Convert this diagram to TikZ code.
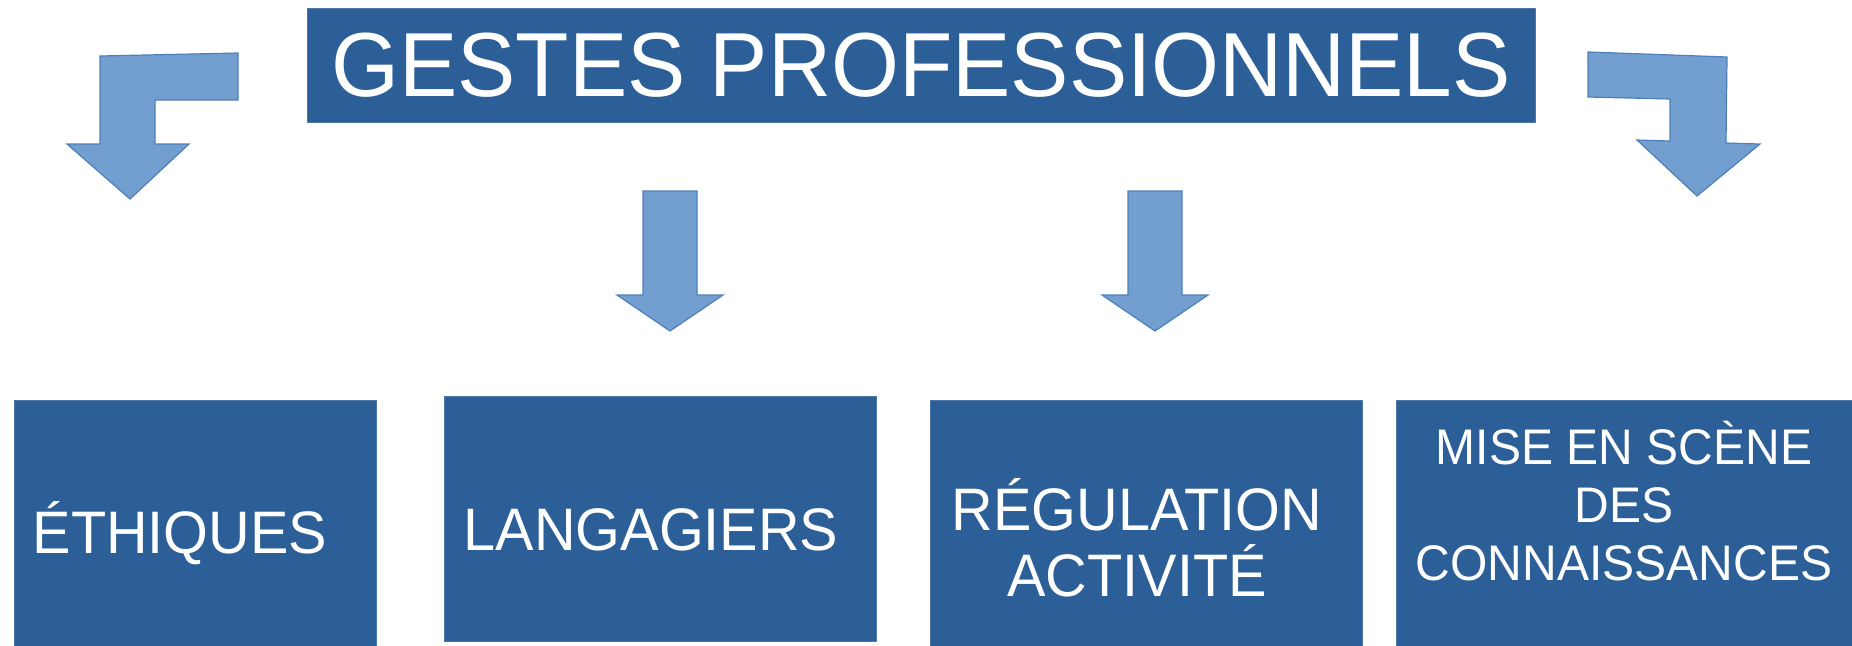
\documentclass[tikz,border=0pt]{standalone}
\usepackage{fontspec}
\setmainfont{Liberation Sans}[FakeStretch=0.96]
\usetikzlibrary{fit}
\definecolor{boxblue}{HTML}{2C5F97}
\definecolor{arrowblue}{HTML}{729FCF}
\definecolor{arrowline}{HTML}{4F7FBA}
\tikzset{
    box/.style={fill=boxblue, draw=boxblue!85!white, inner sep=0pt},
    boxtext/.style={text=white, font=\fontsize{30}{33}\selectfont, align=center, inner sep=0pt},
    bigarrow/.style={fill=arrowblue, draw=arrowline, line width=0.6pt, line join=miter}
}

\begin{document}
\begin{tikzpicture}[x=0.5pt, y=-0.5pt]
    \useasboundingbox (0,0) rectangle (1852,645);
    % title
    \node[box, fit={(307,8) (1535,122)}] (titre) {};
    \node[text=white, font=\fontsize{45.5}{50}\selectfont, inner sep=0pt] (titretxt) at (titre.center) {GESTES PROFESSIONNELS};
    % arrows
    \draw[bigarrow] (238,53) -- (100,56) -- (100,144) -- (67,144) -- (130,199) -- (189,144) -- (155,144) -- (155,100) -- (238,100) -- cycle;
    \draw[bigarrow] (1588,52) -- (1727,57) -- (1726,143) -- (1760,144) -- (1697,196) -- (1637,140) -- (1670,141) -- (1670,99) -- (1588,97) -- cycle;
    \foreach \x in {670,1155}
    \draw[bigarrow] (\x-27,191) -- (\x+27,191) -- (\x+27,295) -- (\x+53,295) -- (\x,331) -- (\x-53,295) -- (\x-27,295) -- cycle;
    % boxes
    \node[box, fit={(14,400) (376,660)}] (ethiques) {};
    \node[box, fit={(444,396) (876,641)}] (langagiers) {};
    \node[box, fit={(930,400) (1362,660)}] (regulation) {};
    \node[box, fit={(1396,400) (1870,660)}] (miseenscene) {};
    \node[boxtext] (ethtxt) at (180,533) {ÉTHIQUES};
    \node[boxtext] (langtxt) at (651,530) {LANGAGIERS};
    \node[boxtext] (regtxt) at (1137,538) {RÉGULATION\\ACTIVITÉ};
    \node[boxtext, font=\fontsize{25}{29}\selectfont] (misetxt) at (1624,501) {MISE EN SCÈNE\\DES\\CONNAISSANCES};
\end{tikzpicture}
\end{document}
